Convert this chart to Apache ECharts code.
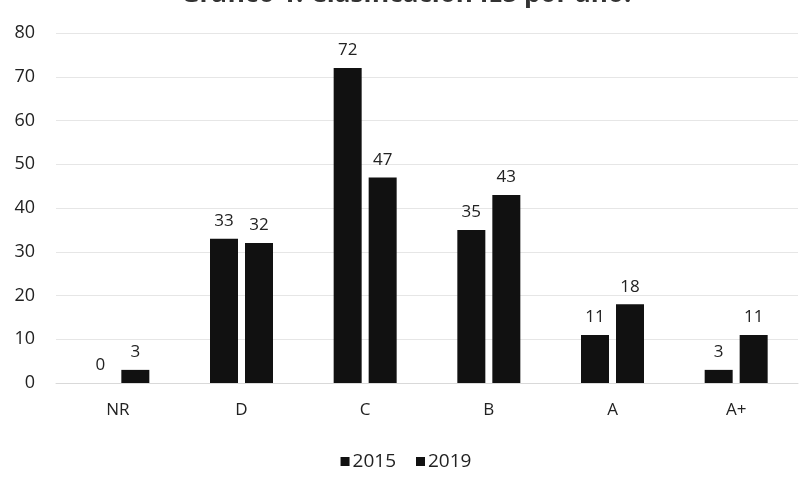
<!DOCTYPE html>
<html>
<head>
<meta charset="utf-8">
<script src="https://cdn.jsdelivr.net/npm/echarts@6/dist/echarts.min.js"></script>
<style>
html,body{margin:0;padding:0;background:#fff;}
#c{width:812px;height:492px;}
</style>
</head>
<body>
<div id="c"></div>
<script>
const titleText = 'Gráfico 1. Clasificación IES por año.';
const categories = ['NR', 'D', 'C', 'B', 'A', 'A+'];
const seriesNames = ['2015', '2019'];
const values2015 = [0, 33, 72, 35, 11, 3];
const values2019 = [3, 32, 47, 43, 18, 11];
const yTicks = { min: 0, max: 80, interval: 10 };

const font = 'Open Sans';
const chart = echarts.init(document.getElementById('c'), null, { renderer: 'canvas' });
const labelStyle = {
  show: true, position: 'top', distance: 9,
  color: '#222', fontSize: 17, fontFamily: font
};
chart.setOption({
  animation: false,
  backgroundColor: '#fff',
  title: {
    text: titleText, left: 'center', top: -23,
    textStyle: { fontSize: 26, fontWeight: 'bold', color: '#333', fontFamily: font }
  },
  legend: {
    data: seriesNames, bottom: 16, left: 'center',
    icon: 'rect', itemWidth: 9, itemHeight: 9, itemGap: 20,
    textStyle: { fontSize: 19, color: '#222', fontFamily: font, padding: [0, 0, 0, -2] }
  },
  grid: { left: 56, right: 14, top: 33, bottom: 109, containLabel: false },
  xAxis: {
    type: 'category', data: categories,
    axisLine: { lineStyle: { color: '#d9d9d9' } },
    axisTick: { show: false },
    axisLabel: { color: '#222', fontSize: 17, fontFamily: font, margin: 19 }
  },
  yAxis: {
    type: 'value', min: yTicks.min, max: yTicks.max, interval: yTicks.interval,
    axisLine: { show: false }, axisTick: { show: false },
    splitLine: { lineStyle: { color: '#e6e6e6' } },
    axisLabel: { color: '#222', fontSize: 18, fontFamily: font, margin: 21 }
  },
  series: [
    { name: seriesNames[0], type: 'bar', data: values2015, barWidth: 28, barGap: '25%',
      itemStyle: { color: '#111' }, label: labelStyle },
    { name: seriesNames[1], type: 'bar', data: values2019, barWidth: 28,
      itemStyle: { color: '#111' }, label: labelStyle }
  ]
});
</script>
</body>
</html>
